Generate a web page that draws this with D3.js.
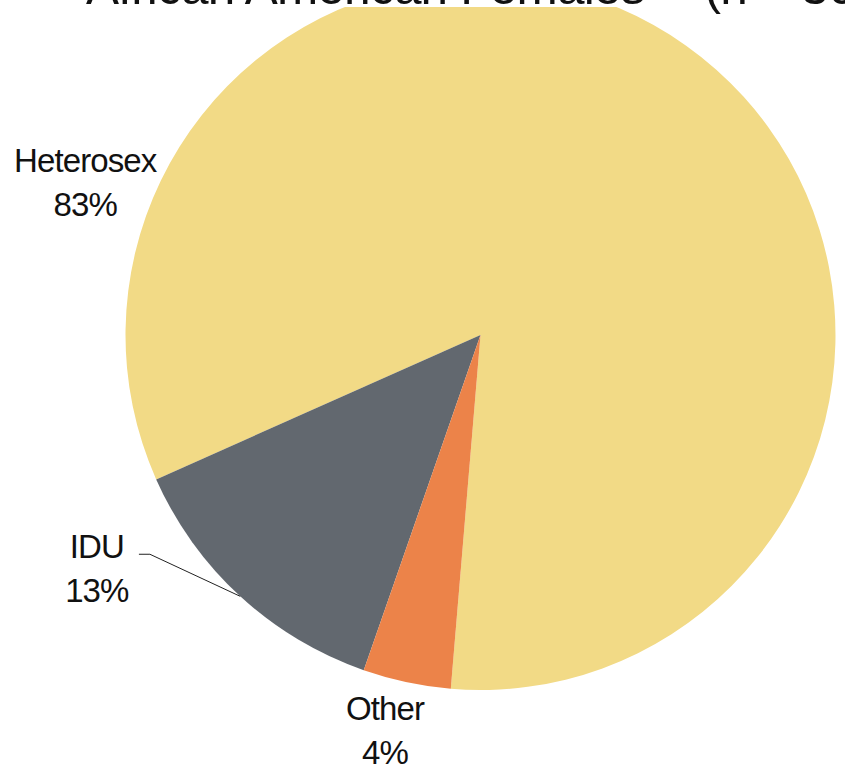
<!DOCTYPE HTML>
<html lang="en">
<head>
    <meta charset="UTF-8">
    <style>
        body { margin: 0; background: #fff; }
        text { font-family: "Liberation Sans", Arial, sans-serif; fill: #111; }
    </style>
</head>
<body>
    <div id="chart"></div>
    <script src="https://cdn.jsdelivr.net/npm/d3@7/dist/d3.min.js"></script>
    <script>
        // data
        var categories = ["Heterosex", "IDU", "Other"];
        var shares = [83, 13, 4];
        var shareLabels = ["83%", "13%", "4%"];
        var colors = ["#f2da86", "#62686f", "#ec8349"];
        var titleMain = "African American Females";
        var titleCount = "(n = 36";

        var width = 845,
            height = 771,
            cx = 480.5,
            cy = 335,
            radius = 355,
            deg = Math.PI / 180;

        // where each label block sits, as angle (deg) and distance from centre
        var labelSpots = {
            "Heterosex": { angle: -68.8, dist: 424 },
            "IDU": { angle: -121.3, dist: 449 },
            "Other": { angle: -166.4, dist: 406 }
        };

        var svg = d3.select("#chart")
                    .append("svg")
                      .attr("width", width)
                      .attr("height", height);

        var g = svg.append("g")
                   .attr("transform", "translate(" + cx + "," + cy + ")");

        // slices run counter-clockwise from just left of six o'clock
        var start = 184.8 * deg;
        var pie = d3.pie()
                    .sort(null)
                    .value(function(d){ return d; })
                    .startAngle(start)
                    .endAngle(start - 2 * Math.PI);

        var arc = d3.arc()
                    .innerRadius(0)
                    .outerRadius(radius);

        var arcs = pie(shares);

        g.selectAll("path.slice")
         .data(arcs)
         .enter()
         .append("path")
           .attr("class", "slice")
           .attr("d", arc)
           .style("fill", function(d, i){ return colors[i]; })
           .style("stroke", "none");

        var lineGap = 44;

        categories.forEach(function(name, i) {
            var spot = labelSpots[name];
            var a = spot.angle * deg;
            var lx = spot.dist * Math.sin(a),
                ly = -spot.dist * Math.cos(a);
            var base1 = ly - 10;

            var label = g.append("text")
                         .attr("text-anchor", "middle")
                         .style("font-size", "33px")
                         .style("letter-spacing", "-0.9px");
            label.append("tspan")
                 .attr("x", lx)
                 .attr("y", base1)
                 .text(name);
            label.append("tspan")
                 .attr("x", lx)
                 .attr("y", base1 + lineGap)
                 .text(shareLabels[i]);

            // leader line only for the IDU label
            if (name === "IDU") {
                var first = label.select("tspan").node().getBBox();
                var mid = (arcs[i].startAngle + arcs[i].endAngle) / 2;
                var ex = radius * Math.sin(mid),
                    ey = -radius * Math.cos(mid);
                var sx = first.x + first.width + 15,
                    sy = base1 - 4;
                g.append("polyline")
                 .attr("points", [[sx, sy], [sx + 11, sy], [ex, ey]].map(function(p){ return p.join(","); }).join(" "))
                 .style("fill", "none")
                 .style("stroke", "#222")
                 .style("stroke-width", 1);
            }
        });

        // title box sits over the top of the pie
        svg.append("rect")
           .attr("x", 0)
           .attr("y", 0)
           .attr("width", width)
           .attr("height", 7)
           .style("fill", "#fff");

        var title = svg.append("text")
                       .attr("x", 86)
                       .attr("y", 4)
                       .style("font-size", "49.5px")
                       .style("letter-spacing", "-0.8px")
                       .text(titleMain);
        title.append("tspan")
             .attr("dx", 60)
             .text(titleCount);
    </script>
</body>
</html>
